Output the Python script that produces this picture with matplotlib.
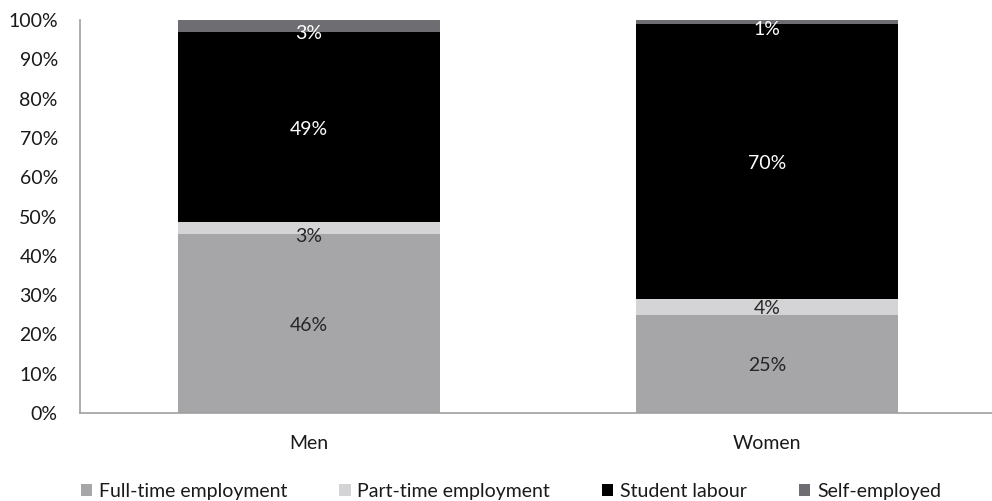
import matplotlib
matplotlib.use("Agg")
import matplotlib.pyplot as plt
from matplotlib.patches import Patch
import numpy as np

plt.rcParams['font.family'] = ['Lato', 'DejaVu Sans']

categories = ["Men", "Women"]
series_names = ["Full-time employment", "Part-time employment", "Student labour", "Self-employed"]
full_time = [46, 25]
part_time = [3, 4]
student_labour = [49, 70]
self_employed = [3, 1]
y_ticks = [0, 10, 20, 30, 40, 50, 60, 70, 80, 90, 100]

colors = ["#a6a6a8", "#d4d4d6", "#000000", "#6e6e72"]
label_colors = ["#262626", "#262626", "#ffffff", "#ffffff"]
fs = 14

values = np.array([full_time, part_time, student_labour, self_employed], dtype=float)
shares = values / values.sum(axis=0) * 100  # 100% stacked

fig = plt.figure(figsize=(9.92, 5.01), dpi=100)
ax = fig.add_axes([80 / 992, 88 / 501, 916 / 992, 393 / 501])

x = np.arange(len(categories))
bottom = np.zeros(len(categories))
for i, name in enumerate(series_names):
    ax.bar(x, shares[i], 0.572, bottom=bottom, color=colors[i], label=name, zorder=2)
    for j in range(len(categories)):
        yc = bottom[j] + shares[i][j] / 2
        dy = -8 if values[i][j] <= 3 else -2
        ax.annotate(f"{values[i][j]:.0f}%", (x[j], yc), xytext=(0, dy),
                    textcoords="offset pixels", ha="center", va="center",
                    fontsize=fs, color=label_colors[i])
    bottom += shares[i]

ax.set_xlim(-0.5, 1.5)
ax.set_ylim(0, 100)
ax.set_yticks(y_ticks)
ax.set_yticklabels([f"{t}%" for t in y_ticks])
ax.set_xticks(x)
ax.set_xticklabels(categories)
ax.tick_params(axis="y", length=0, pad=16, labelsize=fs, labelcolor="#1a1a1a")
ax.tick_params(axis="x", length=0, pad=16, labelsize=fs, labelcolor="#1a1a1a")
for s in ["top", "right"]:
    ax.spines[s].set_visible(False)
for s in ["left", "bottom"]:
    ax.spines[s].set_color("#a0a0a0")
    ax.spines[s].set_linewidth(1.2)

handles = [Patch(facecolor=c) for c in colors]
fig.legend(handles, series_names, loc="center", bbox_to_anchor=(0.515, 0.019),
           ncol=4, frameon=False, fontsize=fs, handlelength=0.6, handleheight=0.6,
           handletextpad=0.35, columnspacing=2.65, labelcolor="#1a1a1a")

fig.savefig("out.png", dpi=100)
